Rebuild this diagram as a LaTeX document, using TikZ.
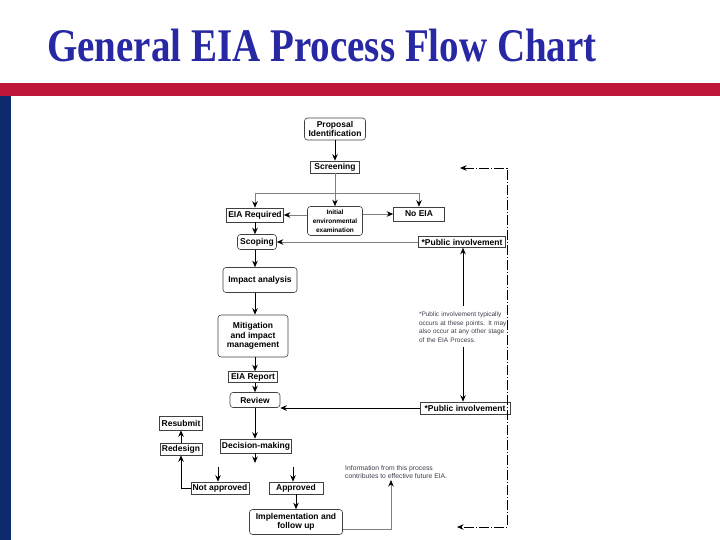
\documentclass[tikz,border=0pt]{standalone}
\usepackage{fontspec}
\setmainfont{Liberation Sans}
\newfontfamily\titlefont{Liberation Serif}
\usepackage{graphicx}
\usetikzlibrary{arrows.meta,positioning,calc}
\definecolor{slidered}{RGB}{190,22,58}
\definecolor{slideblue}{RGB}{12,42,110}
\definecolor{titleblue}{RGB}{40,40,165}
\definecolor{notegray}{RGB}{60,60,75}

\begin{document}
\begin{tikzpicture}[x=1pt, y=-1pt,
    box/.style={draw=black!75, line width=0.6pt, fill=white, font=\fontsize{8.5}{9.5}\selectfont\bfseries, inner sep=1pt, align=center},
    rbox/.style={box, rounded corners=3pt},
    small/.style={font=\fontsize{6.5}{8.5}\selectfont, text=notegray, inner sep=0pt},
    arr/.style={-{Stealth[length=6.5pt,width=5.5pt]}, black, line width=0.9pt},
    garr/.style={-{Stealth[length=6.5pt,width=5.5pt,black]}, gray, line width=0.9pt},
    fb/.style={{Stealth[length=6.5pt,width=5.5pt]}-{Stealth[length=6.5pt,width=5.5pt]}, black, line width=0.7pt, dash pattern=on 10pt off 2pt on 1pt off 2pt}]

    \useasboundingbox (0,0) rectangle (720,540);

    % Slide frame
    \fill[slidered] (0,83) rectangle (720,96);
    \fill[slideblue] (0,96) rectangle (11,540);

    % Title
    \node[anchor=base, text=titleblue, font=\titlefont\bfseries\fontsize{39}{40}\selectfont] (title) at (322,62) {\scalebox{1}[1.2]{General EIA Process Flow Chart}};

    % Screening stage
    \node[rbox, minimum width=61, minimum height=22] (prop) at (335,129) {Proposal\\Identification};
    \node[box, minimum width=49, minimum height=12] (screen) at (335,167) {Screening};
    \node[box, minimum width=57, minimum height=14] (eiareq) at (255,215) {EIA Required};
    \node[rbox, minimum width=55, minimum height=29, font=\fontsize{6.5}{9}\selectfont\bfseries] (iee) at (335,221) {Initial\\environmental\\examination};
    \node[box, minimum width=51, minimum height=14] (noeia) at (419,214) {No EIA};

    % Main column
    \coordinate (spine) at (255,0);
    \node[rbox, minimum width=39, minimum height=15] (scope) at (257,242) {Scoping};
    \node[rbox, minimum width=74, minimum height=25] (impact) at (260,280) {Impact analysis};
    \node[rbox, minimum width=70, minimum height=42] (mitig) at (253,336) {Mitigation\\and impact\\management};
    \node[box, minimum width=49, minimum height=11] (report) at (253,377) {EIA Report};
    \node[rbox, minimum width=50, minimum height=15] (review) at (255,400) {Review};
    \node[box, minimum width=71, minimum height=14] (decide) at (256,446) {Decision-making};

    % Outcomes
    \node[box, minimum width=43, minimum height=14] (resub) at (181,423) {Resubmit};
    \node[box, minimum width=42, minimum height=12] (redes) at (181,449) {Redesign};
    \node[box, minimum width=58, minimum height=12] (notapp) at (220,488) {Not approved};
    \node[box, minimum width=54, minimum height=12] (app) at (296,488) {Approved};
    \node[rbox, minimum width=93, minimum height=25] (impl) at (296,522) {Implementation and\\follow up};

    % Public involvement
    \node[box, minimum width=87, minimum height=11] (pubtop) at (462,242) {*Public involvement};
    \node[box, minimum width=90, minimum height=12] (pubbot) at (465,408) {*Public involvement};
    \node[small, text width=88, align=left] (note) at (463,327) {*Public involvement typically occurs at these points. It may also occur at any other stage of the EIA Process.};
    \node[small, anchor=north west, align=left, font=\fontsize{6.8}{8.5}\selectfont] (info) at (345,465) {Information from this process\\contributes to effective future EIA.};

    % Connections
    \coordinate (split) at (335,193);
    \coordinate (splitl) at (255,193);
    \coordinate (splitr) at (419,193);
    \draw[arr] (prop) -- (screen);
    \draw[gray, line width=0.9pt] (screen) -- (split);
    \draw[gray, line width=0.9pt] (splitl) -- (splitr);
    \draw[garr] (split) -- (iee);
    \draw[garr] (splitl) -- (eiareq);
    \draw[garr] (splitr) -- (noeia);
    \draw[garr] (iee.west |- eiareq.east) -- (eiareq.east);
    \draw[garr] (iee.east |- noeia.west) -- (noeia.west);
    \draw[garr] (pubtop.west) -- (pubtop.west -| scope.east);

    \foreach \a/\b in {eiareq/scope, scope/impact, impact/mitig, mitig/report, report/review, review/decide} {
        \draw[arr] (\a.south -| spine) -- (\b.north -| spine);
    }
    \draw[arr] (pubbot.west) -- (pubbot.west -| review.east);

    \coordinate (decout) at (255,463);
    \coordinate (notin) at (218,467);
    \coordinate (appin) at (293,467);
    \draw[arr] (decide.south -| spine) -- (decout);
    \draw[arr] (notin) -- (notin |- notapp.north);
    \draw[arr] (appin) -- (appin |- app.north);
    \draw[arr] (notapp.west) -| (redes.south);
    \draw[arr] (redes) -- (resub);
    \draw[arr] (app) -- (impl);

    \coordinate (infoin) at (391,480);
    \draw[garr] ([yshift=-7pt]impl.east) -| (infoin);

    \draw[arr] ([yshift=6pt]note.north) -- (note.north |- pubtop.south);
    \draw[arr] ([yshift=-5pt]note.south) -- (note.south |- pubbot.north);

    % Feedback loop
    \coordinate (fbtop) at (460,168);
    \coordinate (fbbot) at (457,527);
    \coordinate (fbside) at (507,350);
    \draw[fb] (fbtop) -| (fbside) |- (fbbot);
\end{tikzpicture}
\end{document}
